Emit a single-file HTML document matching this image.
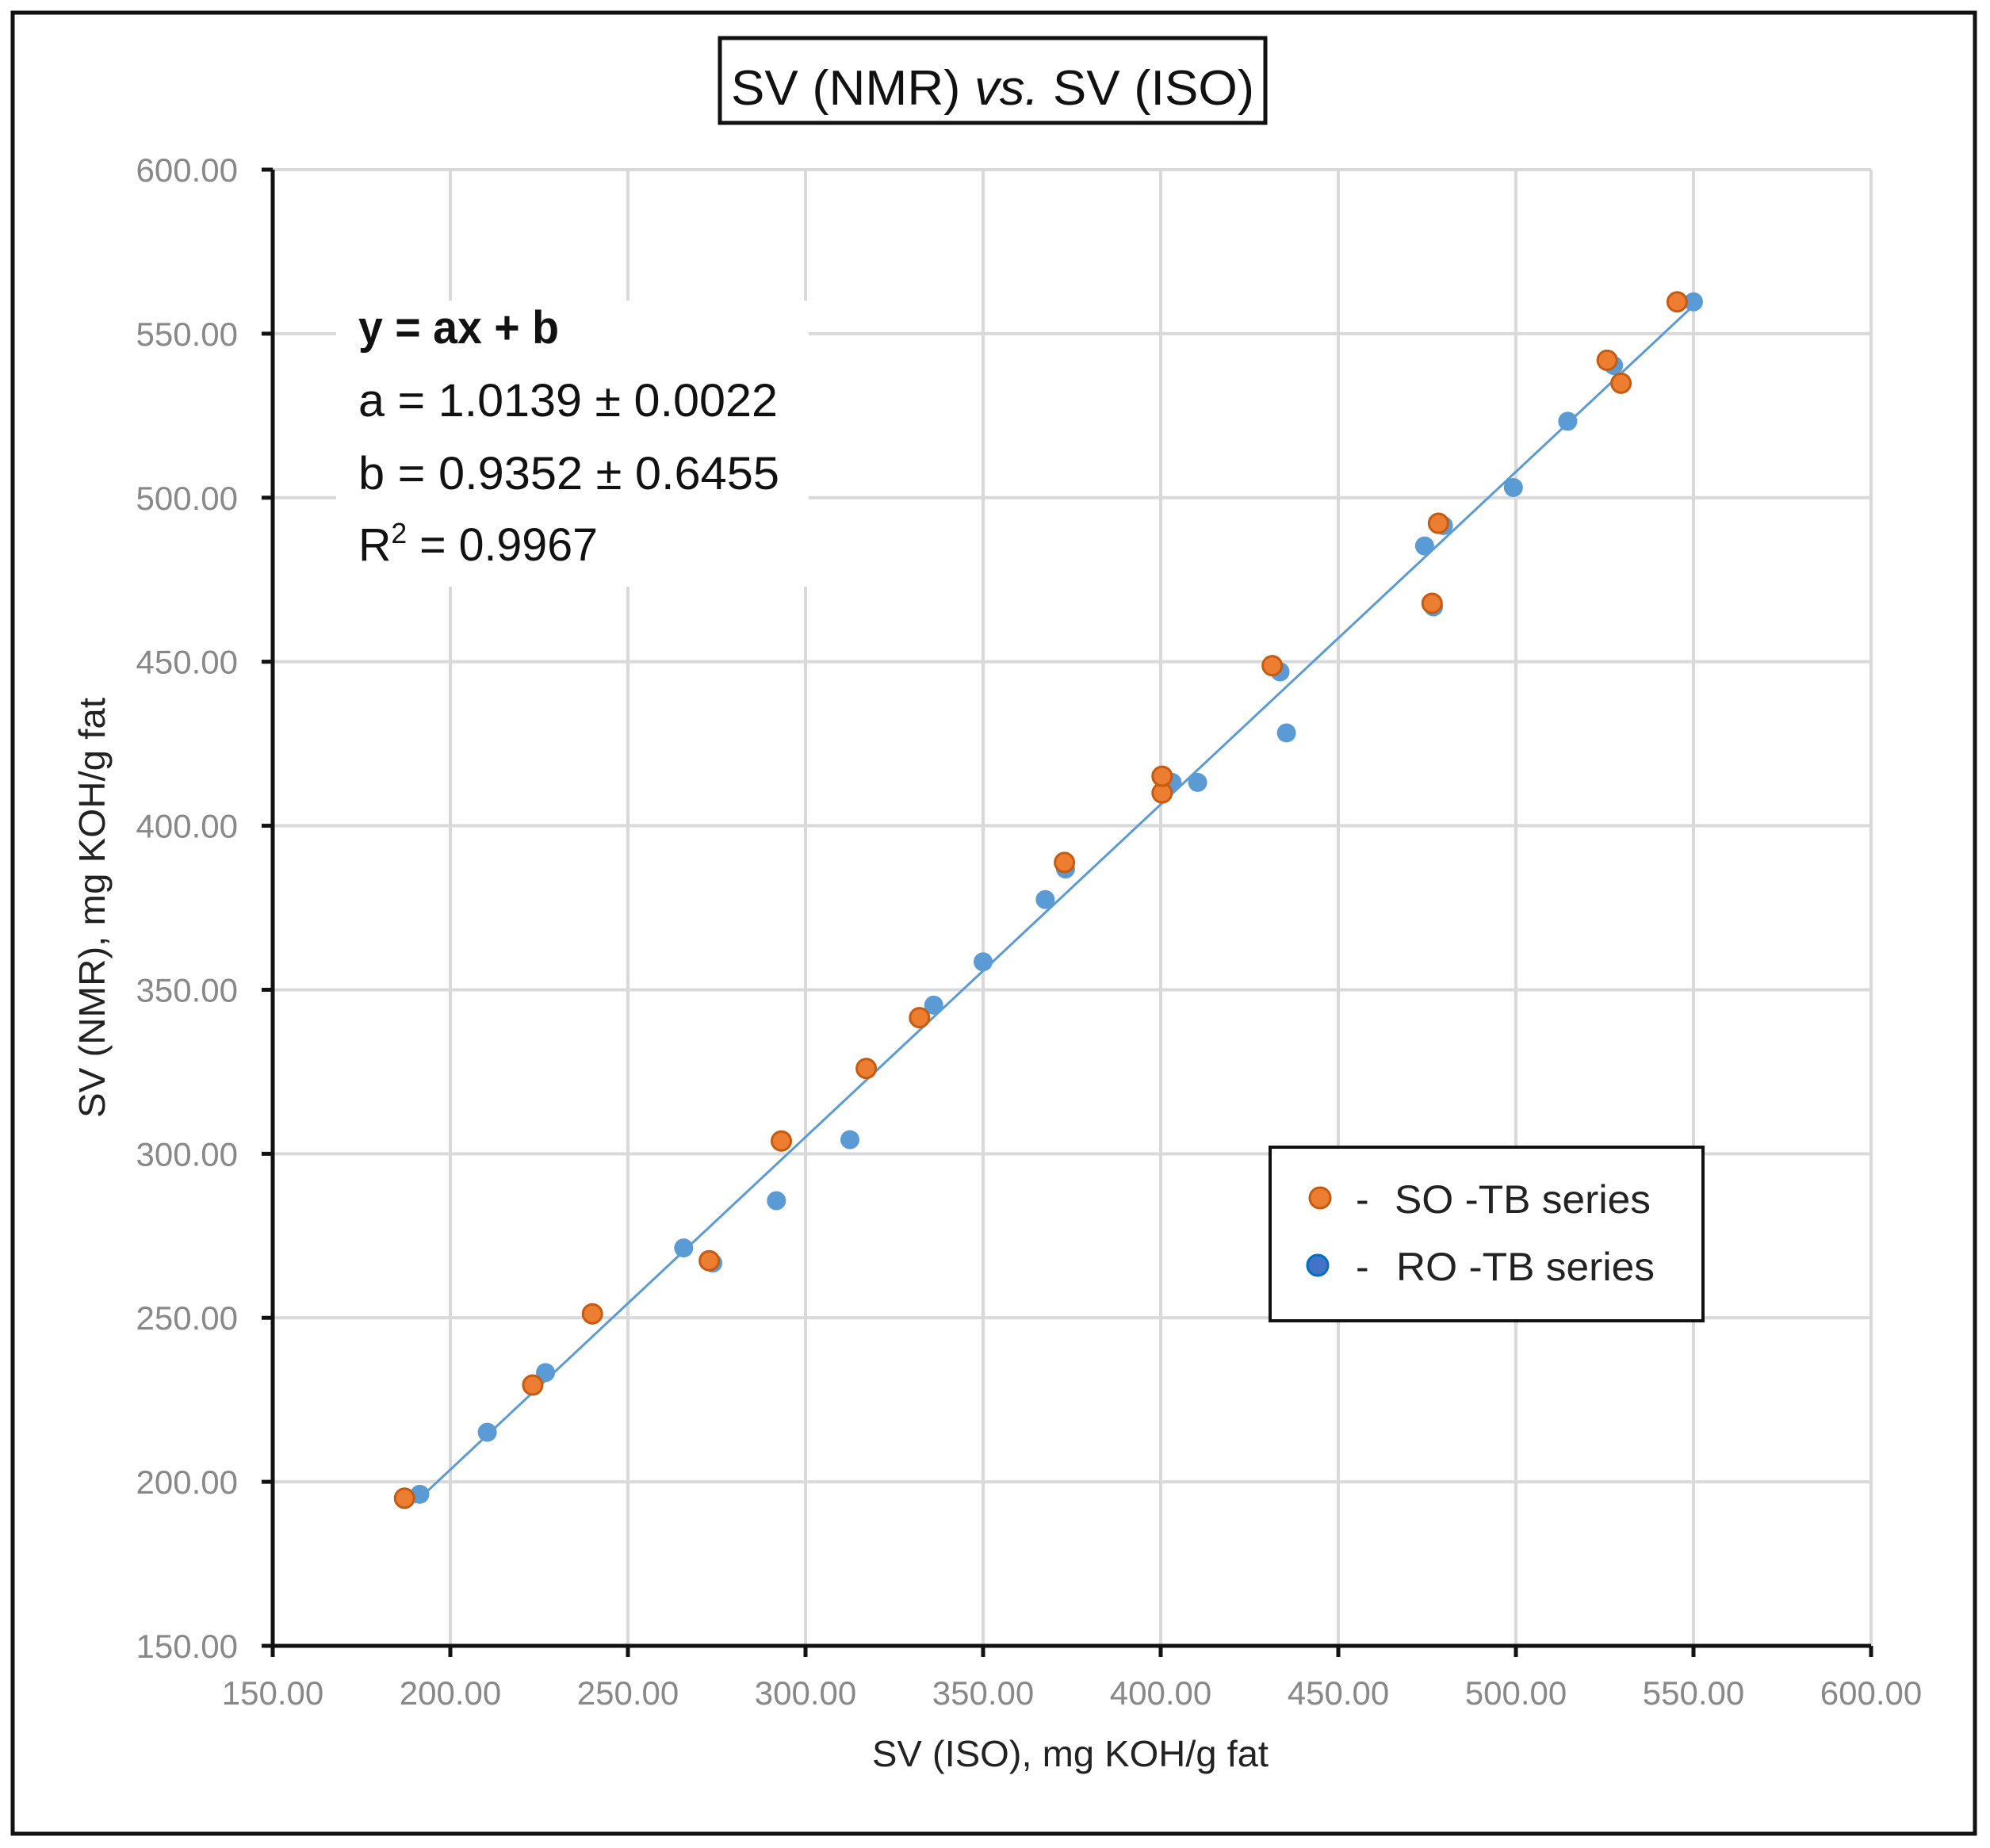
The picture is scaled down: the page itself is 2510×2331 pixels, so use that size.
<!DOCTYPE html>
<html><head><meta charset="utf-8">
<style>
html,body{margin:0;padding:0;background:#fff;}
svg{display:block;font-family:"Liberation Sans",sans-serif;}
</style></head>
<body>
<svg id="chart" width="2510" height="2331" viewBox="0 0 2510 2331" xmlns="http://www.w3.org/2000/svg">
  <rect x="0" y="0" width="2510" height="2331" fill="#fff"/>
  <rect x="16" y="16" width="2475" height="2297" fill="none" stroke="#111" stroke-width="5"/>
  <g id="grid"></g>
  <g id="axes"></g>
  <g id="ticklabels"></g>
  <rect x="424" y="379" width="596" height="361" fill="#fff"/>
  <g font-size="58" fill="#111">
    <text x="452" y="433" font-weight="bold" textLength="253" lengthAdjust="spacingAndGlyphs">y = ax + b</text>
    <text x="452" y="525" textLength="529" lengthAdjust="spacingAndGlyphs">a = 1.0139 ± 0.0022</text>
    <text x="452" y="617" textLength="531" lengthAdjust="spacingAndGlyphs">b = 0.9352 ± 0.6455</text>
    <text x="452" y="707" textLength="302" lengthAdjust="spacingAndGlyphs">R<tspan dy="-22" font-size="36">2</tspan><tspan dy="22"> = 0.9967</tspan></text>
  </g>
  <g id="trend"></g>
  <g id="points"></g>
  <rect x="908" y="48" width="688" height="107" fill="#fff" stroke="#111" stroke-width="5"/>
  <text x="1252" y="132" text-anchor="middle" font-size="62" fill="#111" textLength="660" lengthAdjust="spacingAndGlyphs">SV (NMR) <tspan font-style="italic">vs.</tspan> SV (ISO)</text>
  <text x="1350" y="2228" text-anchor="middle" font-size="46" fill="#222" textLength="500" lengthAdjust="spacingAndGlyphs">SV (ISO), mg KOH/g fat</text>
  <text transform="translate(132,1145) rotate(-90)" text-anchor="middle" font-size="46" fill="#222" textLength="530" lengthAdjust="spacingAndGlyphs">SV (NMR), mg KOH/g fat</text>
  <g>
    <rect x="1602" y="1447" width="546" height="219" fill="#fff" stroke="#111" stroke-width="4"/>
    <circle cx="1665" cy="1511" r="13" fill="#ED7D31" stroke="#C55A11" stroke-width="3"/>
    <text x="1710" y="1530" font-size="50" fill="#222">-</text>
    <text x="1759" y="1530" font-size="50" fill="#222" textLength="323" lengthAdjust="spacingAndGlyphs">SO -TB series</text>
    <circle cx="1662" cy="1596" r="13" fill="#4472C4" stroke="#0070C0" stroke-width="3"/>
    <text x="1710" y="1615" font-size="50" fill="#222">-</text>
    <text x="1761" y="1615" font-size="50" fill="#222" textLength="326" lengthAdjust="spacingAndGlyphs">RO -TB series</text>
  </g>
</svg>
<script>
const xTicks = [150, 200, 250, 300, 350, 400, 450, 500, 550, 600];
const yTicks = [150, 200, 250, 300, 350, 400, 450, 500, 550, 600];
const soX = [187.1, 223.2, 240, 272.9, 293.2, 317.1, 332.1, 372.9, 400.4, 400.4, 431.4, 476.4, 478.2, 525.7, 529.6, 545.4];
const soY = [195, 229.5, 251.2, 267.4, 303.9, 326, 341.5, 388.8, 410, 415.1, 448.8, 467.8, 492.2, 541.9, 534.9, 559.7];
const roX = [191.4, 210.4, 226.8, 265.7, 273.9, 291.8, 312.5, 336.1, 350, 367.5, 373.2, 403.2, 410.4, 433.6, 435.4, 474.3, 476.8, 479.6, 499.3, 514.6, 527.5, 550];
const roY = [196.2, 215.1, 233.3, 271.3, 266.7, 285.7, 304.3, 345.3, 358.5, 377.5, 386.8, 413.2, 413.2, 446.9, 428.3, 485.3, 466.7, 491.5, 503.1, 523.3, 540.3, 559.7];
const fitSlope = 1.0139;
const fitIntercept = 0.9352;
const fitRange = [190, 550];

const NS = 'http://www.w3.org/2000/svg';
const X0 = 344, X1 = 2360, Y0 = 2076, Y1 = 214;
const xMin = 150, xMax = 600, yMin = 150, yMax = 600;
function sx(v){ return X0 + (v - xMin) / (xMax - xMin) * (X1 - X0); }
function sy(v){ return Y0 - (v - yMin) / (yMax - yMin) * (Y0 - Y1); }
function mk(tag, attrs, parent){
  const el = document.createElementNS(NS, tag);
  for (const k in attrs) el.setAttribute(k, attrs[k]);
  parent.appendChild(el);
  return el;
}
const grid = document.getElementById('grid');
const axes = document.getElementById('axes');
const tl = document.getElementById('ticklabels');

xTicks.forEach(function(v){
  if (v !== xMin) {
    const g = mk('line', {x1: sx(v), x2: sx(v), y1: Y1, y2: Y0, stroke: '#d9d9d9', 'stroke-width': 4}, grid);
    
    
  }
  const t = mk('line', {x1: sx(v), x2: sx(v), y1: Y0, y2: Y0 + 14, stroke: '#111', 'stroke-width': 5}, axes);
  
  
  const lb = mk('text', {x: sx(v), y: 2150, 'text-anchor': 'middle', 'font-size': 42, fill: '#888'}, tl);
  lb.textContent = v.toFixed(2);
  
  
});
yTicks.forEach(function(v){
  if (v !== yMin) {
    const g = mk('line', {x1: X0, x2: X1, y1: sy(v), y2: sy(v), stroke: '#d9d9d9', 'stroke-width': 4}, grid);
    
    
  }
  const t = mk('line', {x1: X0 - 14, x2: X0, y1: sy(v), y2: sy(v), stroke: '#111', 'stroke-width': 5}, axes);
  
  
  const lb = mk('text', {x: 300, y: sy(v) + 15, 'text-anchor': 'end', 'font-size': 42, fill: '#888'}, tl);
  lb.textContent = v.toFixed(2);
  
  
});
const xa = mk('line', {x1: X0 - 14, x2: X1, y1: Y0, y2: Y0, stroke: '#111', 'stroke-width': 5}, axes);


const ya = mk('line', {x1: X0, x2: X0, y1: Y1, y2: Y0 + 14, stroke: '#111', 'stroke-width': 5}, axes);



const tr = mk('line', {x1: sx(fitRange[0]), y1: sy(fitSlope * fitRange[0] + fitIntercept), x2: sx(fitRange[1]), y2: sy(fitSlope * fitRange[1] + fitIntercept), stroke: '#5B9BD5', 'stroke-width': 3}, document.getElementById('trend'));



const pts = document.getElementById('points');
roX.forEach(function(x, i){
  const c = mk('circle', {cx: sx(x), cy: sy(roY[i]), r: 12, fill: '#5B9BD5'}, pts);
  
  
});
soX.forEach(function(x, i){
  const c = mk('circle', {cx: sx(x), cy: sy(soY[i]), r: 12, fill: '#ED7D31', stroke: '#C55A11', 'stroke-width': 3}, pts);
  
  
});
</script>
</body></html>
